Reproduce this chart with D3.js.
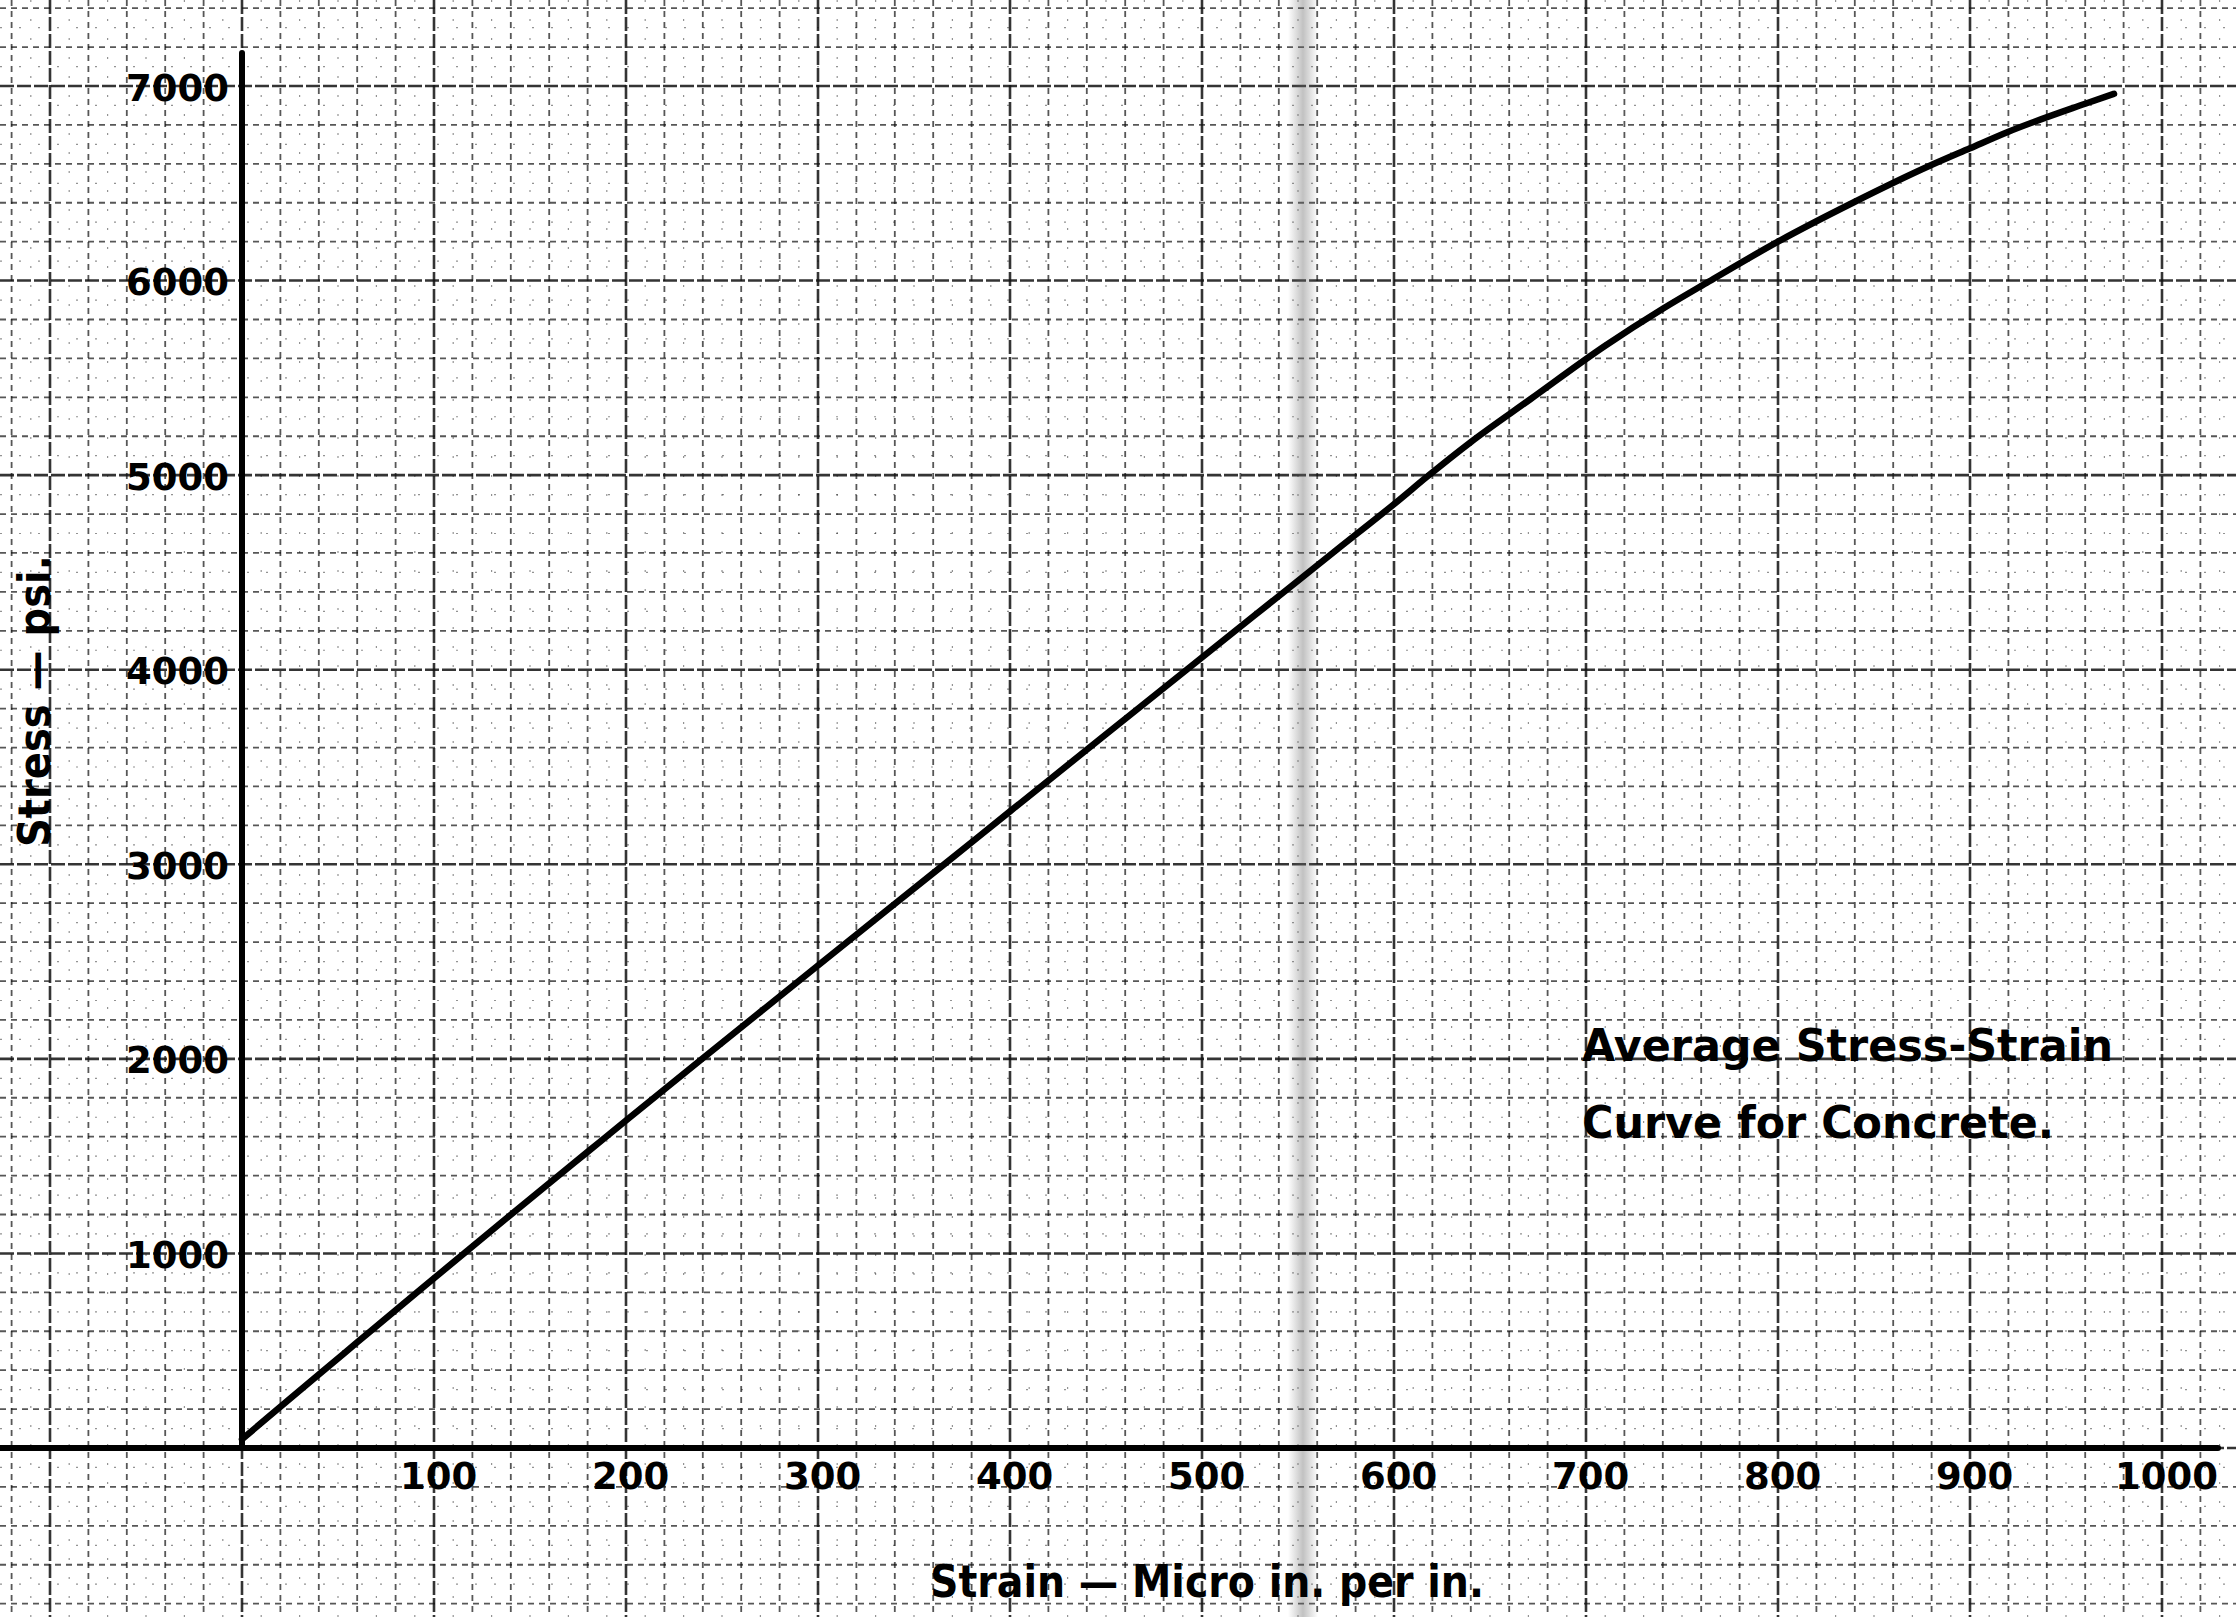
<!DOCTYPE html>
<html>
<head>
<meta charset="utf-8">
<script src="https://cdn.jsdelivr.net/npm/d3@7"></script>
<style>
  body { margin: 0; background: #fff; }
  text { font-family: "DejaVu Sans", sans-serif; fill: #000; }
</style>
</head>
<body>
<script>
// values
var strain = [0, 20, 40, 60, 80, 100, 120, 140, 160, 180, 200, 240, 300, 367, 400, 450, 492, 544, 570, 603, 617, 640, 671, 710, 740, 764, 800, 839, 879, 900, 920, 960, 975];
var stress = [45, 212, 378, 543, 708, 872, 1036, 1199, 1361, 1522, 1683, 2003, 2480, 3010, 3272, 3668, 4000, 4410, 4615, 4875, 4990, 5170, 5390, 5665, 5855, 5995, 6200, 6400, 6590, 6680, 6765, 6909, 6960];
var xTicks = [100, 200, 300, 400, 500, 600, 700, 800, 900, 1000];
var yTicks = [1000, 2000, 3000, 4000, 5000, 6000, 7000];
var xTitle = "Strain \u2014 Micro in. per in.";
var yTitle = "Stress \u2014 psi.";
var note = ["Average Stress-Strain", "Curve for Concrete."];

var w = 2236, h = 1617;

var svg = d3.select("body").append("svg")
    .attr("width", w)
    .attr("height", h)
    .style("background", "#fff");

// scales (graph paper is square: 100 strain ~ 1000 psi)
var x = d3.scaleLinear().domain([0, 1000]).range([242, 2162]);
var y = d3.scaleLinear().domain([0, 7000]).range([1448, 86]);

// grid covers the whole sheet, also left of and below the axes
var xLo = Math.floor(x.invert(0) / 10) * 10, xHi = Math.ceil(x.invert(w) / 10) * 10;
var yLo = Math.floor(y.invert(h) / 100) * 100, yHi = Math.ceil(y.invert(0) / 100) * 100;
var gx = d3.range(xLo, xHi + 1, 10);
var gy = d3.range(yLo, yHi + 1, 100);

function kindX(v) { return v % 100 === 0 ? "major" : (v % 20 === 0 ? "minor" : "fine"); }
function kindY(v) { return v % 1000 === 0 ? "major" : (v % 200 === 0 ? "minor" : "fine"); }
var gridStyle = {
  fine:  { width: 1.2, dash: "2,17", op: 0.45 },
  minor: { width: 1.8, dash: "6,5", op: 0.7 },
  major: { width: 2.6, dash: "14,3", op: 0.85 }
};

var grid = svg.append("g").attr("class", "grid");
grid.selectAll(".vline").data(gx).enter().append("line")
    .attr("class", "vline")
    .attr("x1", function(d) { return x(d); })
    .attr("x2", function(d) { return x(d); })
    .attr("y1", 0).attr("y2", h)
    .attr("stroke", "#111")
    .attr("stroke-width", function(d) { return gridStyle[kindX(d)].width; })
    .attr("stroke-dasharray", function(d) { return gridStyle[kindX(d)].dash; })
    .attr("opacity", function(d) { return gridStyle[kindX(d)].op; });
grid.selectAll(".hline").data(gy).enter().append("line")
    .attr("class", "hline")
    .attr("y1", function(d) { return y(d); })
    .attr("y2", function(d) { return y(d); })
    .attr("x1", 0).attr("x2", w)
    .attr("stroke", "#111")
    .attr("stroke-width", function(d) { return gridStyle[kindY(d)].width; })
    .attr("stroke-dasharray", function(d) { return gridStyle[kindY(d)].dash; })
    .attr("opacity", function(d) { return gridStyle[kindY(d)].op; });

// fold smudge in the scan
var defs = svg.append("defs");
var grad = defs.append("linearGradient").attr("id", "smudge");
grad.append("stop").attr("offset", "0%").attr("stop-color", "#666").attr("stop-opacity", 0);
grad.append("stop").attr("offset", "50%").attr("stop-color", "#666").attr("stop-opacity", 0.4);
grad.append("stop").attr("offset", "100%").attr("stop-color", "#666").attr("stop-opacity", 0);
svg.append("rect")
    .attr("x", 1288).attr("y", 0).attr("width", 30).attr("height", h)
    .attr("fill", "url(#smudge)");

// axes lines
svg.append("line")
    .attr("x1", 0).attr("x2", 2218)
    .attr("y1", y(0)).attr("y2", y(0))
    .attr("stroke", "#000").attr("stroke-width", 6)
    .attr("stroke-linecap", "round");
svg.append("line")
    .attr("x1", x(0)).attr("x2", x(0))
    .attr("y1", y(0)).attr("y2", 53)
    .attr("stroke", "#000").attr("stroke-width", 6)
    .attr("stroke-linecap", "round");

// tick labels
var xAxis = svg.append("g")
    .attr("transform", "translate(0," + y(0) + ")")
    .call(d3.axisBottom(x).tickValues(xTicks).tickSize(0).tickPadding(15).tickFormat(d3.format("d")));
xAxis.select(".domain").remove();
xAxis.selectAll("text")
    .attr("font-family", "DejaVu Sans")
    .attr("font-size", 37)
    .attr("font-weight", "bold")
    .attr("fill", "#000")
    .attr("dx", 4);

var yAxis = svg.append("g")
    .attr("transform", "translate(" + x(0) + ",0)")
    .call(d3.axisLeft(y).tickValues(yTicks).tickSize(0).tickPadding(13).tickFormat(d3.format("d")));
yAxis.select(".domain").remove();
yAxis.selectAll("text")
    .attr("font-family", "DejaVu Sans")
    .attr("font-size", 37)
    .attr("font-weight", "bold")
    .attr("fill", "#000")
    .attr("dy", "0.38em");

// curve
var pts = strain.map(function(s, i) { return [s, stress[i]]; });
var line = d3.line()
    .x(function(d) { return x(d[0]); })
    .y(function(d) { return y(d[1]); })
    .curve(d3.curveMonotoneX);
svg.append("path")
    .datum(pts)
    .attr("d", line)
    .attr("fill", "none")
    .attr("stroke", "#000")
    .attr("stroke-width", 6.5)
    .attr("stroke-linecap", "round")
    .attr("stroke-linejoin", "round");

// axis titles
svg.append("text")
    .attr("x", 930).attr("y", 1597)
    .attr("font-size", 44)
    .attr("font-weight", "bold")
    .attr("textLength", 554)
    .attr("lengthAdjust", "spacingAndGlyphs")
    .text(xTitle);

svg.append("text")
    .attr("transform", "translate(50,847) rotate(-90)")
    .attr("font-size", 44)
    .attr("font-weight", "bold")
    .attr("textLength", 292)
    .attr("lengthAdjust", "spacingAndGlyphs")
    .text(yTitle);

// note block
var noteG = svg.append("g");
noteG.append("text")
    .attr("x", 1582).attr("y", 1061)
    .attr("font-size", 44)
    .attr("font-weight", "bold")
    .attr("textLength", 531)
    .attr("lengthAdjust", "spacingAndGlyphs")
    .text(note[0]);
noteG.append("text")
    .attr("x", 1582).attr("y", 1138)
    .attr("font-size", 44)
    .attr("font-weight", "bold")
    .attr("textLength", 472)
    .attr("lengthAdjust", "spacingAndGlyphs")
    .text(note[1]);
</script>
</body>
</html>
